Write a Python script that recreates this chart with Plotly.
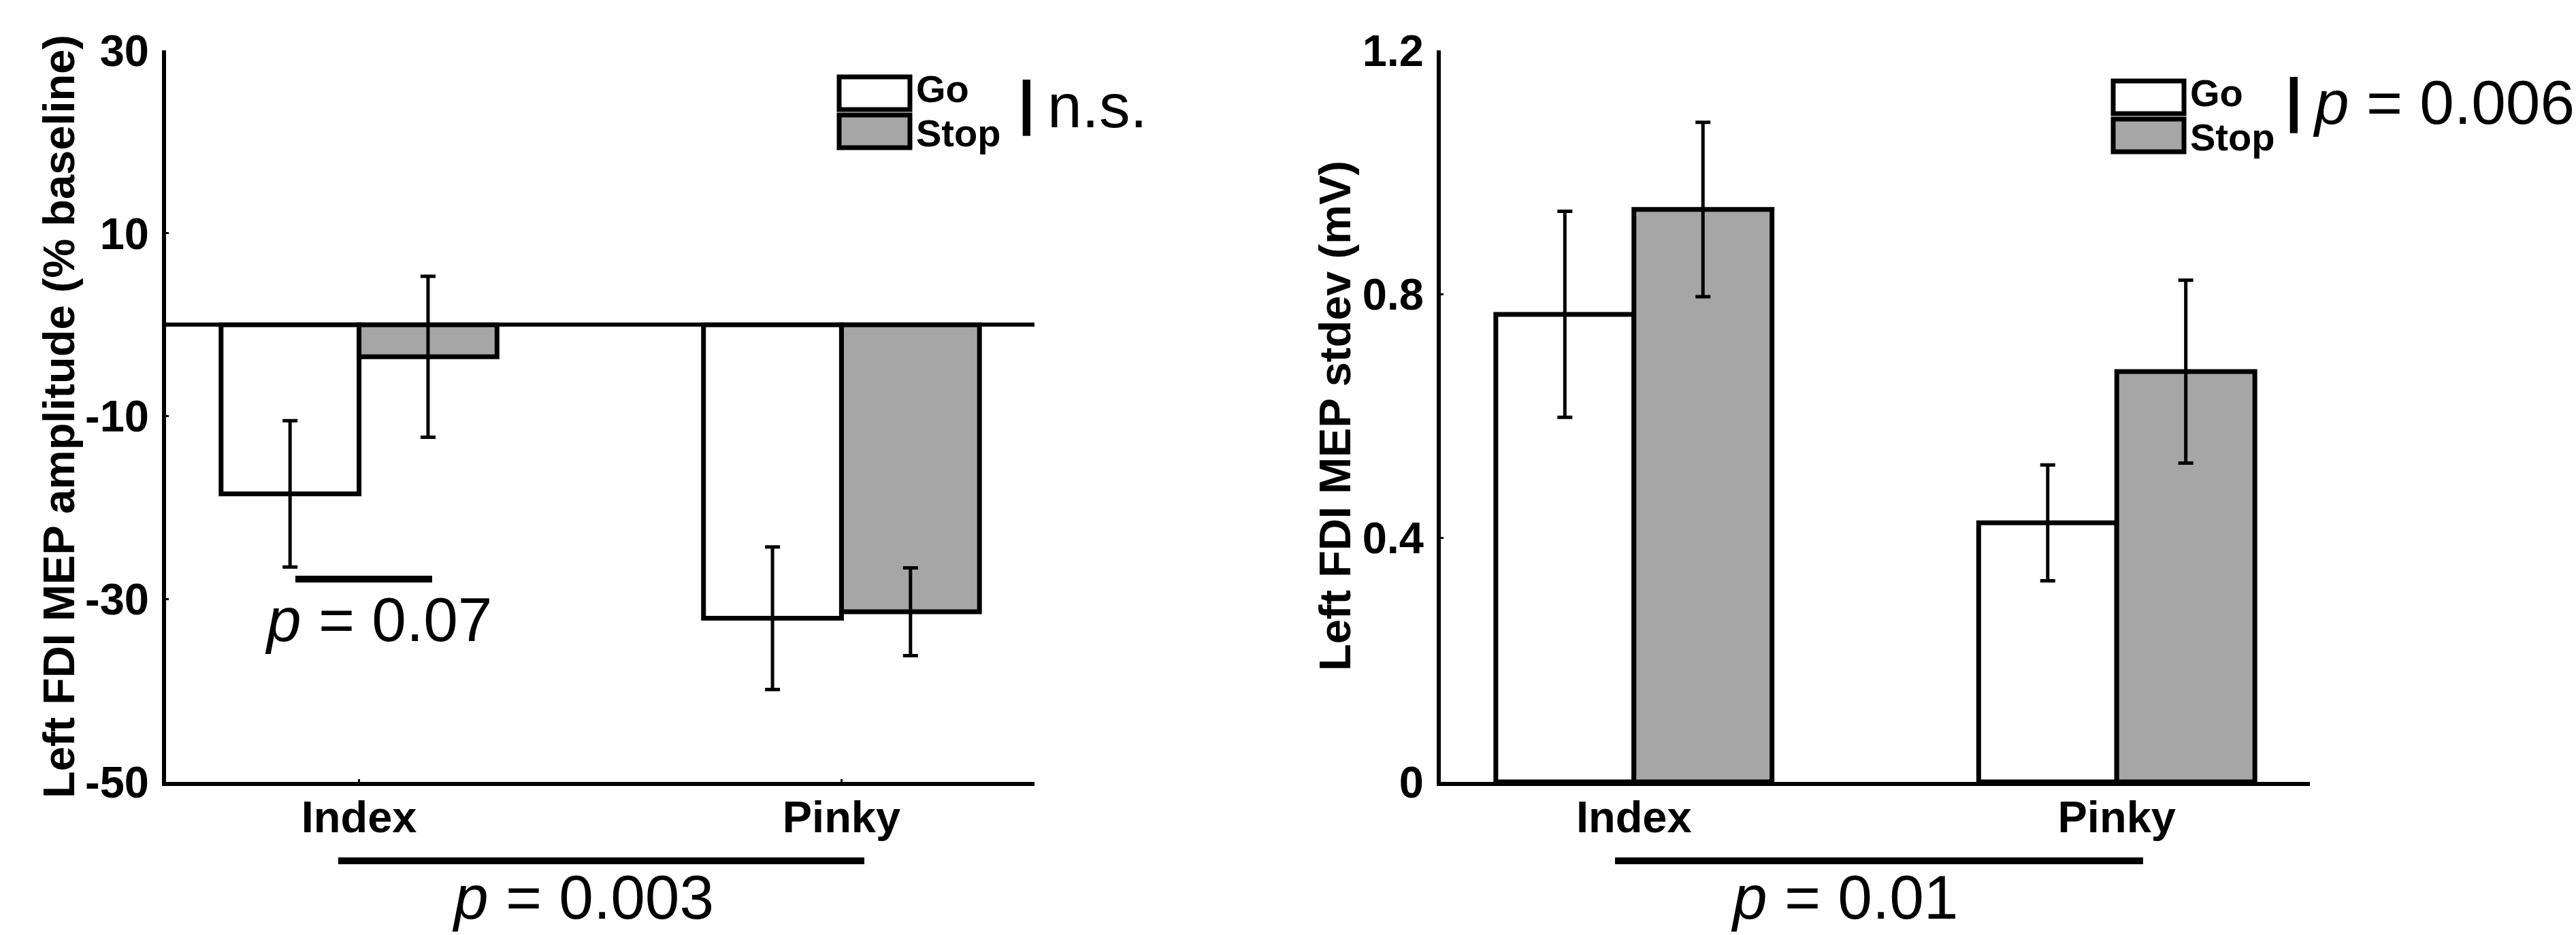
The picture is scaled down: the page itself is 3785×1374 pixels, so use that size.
import plotly.graph_objects as go

# ---- data ----
categories = ["Index", "Pinky"]
conditions = ["Go", "Stop"]

amp_go = [-18.5, -32.1]
amp_go_err = [8.0, 7.8]
amp_stop = [-3.5, -31.4]
amp_stop_err = [8.8, 4.8]

sd_go = [0.767, 0.425]
sd_go_err = [0.169, 0.095]
sd_stop = [0.939, 0.673]
sd_stop_err = [0.143, 0.150]

amp_ticks = [-50, -30, -10, 10, 30]
amp_ticktext = ["-50", "-30", "-10", "10", "30"]
sd_ticks = [0, 0.4, 0.8, 1.2]
sd_ticktext = ["0", "0.4", "0.8", "1.2"]

W, H = 3785, 1374
FONT = "Liberation Sans, Arial, Helvetica, sans-serif"
GRAY = "#a6a6a6"


def px(x):
    return x / W


def py(y):
    return 1 - y / H


fig = go.Figure()


def add_bars(xa, ya, go_vals, go_err, stop_vals, stop_err):
    fig.add_trace(go.Bar(
        x=categories, y=go_vals, name=conditions[0], xaxis=xa, yaxis=ya,
        marker=dict(color="white", line=dict(color="black", width=7)),
        error_y=dict(type="data", array=go_err, color="black", thickness=5, width=11),
        showlegend=False))
    fig.add_trace(go.Bar(
        x=categories, y=stop_vals, name=conditions[1], xaxis=xa, yaxis=ya,
        marker=dict(color=GRAY, line=dict(color="black", width=7)),
        error_y=dict(type="data", array=stop_err, color="black", thickness=5, width=11),
        showlegend=False))


add_bars("x", "y", amp_go, amp_go_err, amp_stop, amp_stop_err)
add_bars("x2", "y2", sd_go, sd_go_err, sd_stop, sd_stop_err)

tickfont = dict(family=FONT, size=65, color="black", weight="bold")
ydom = [py(1149), py(74)]

axis_common = dict(showline=True, linecolor="black", linewidth=6, showgrid=False,
                   ticks="inside", ticklen=4, tickwidth=3, tickcolor="black",
                   tickfont=tickfont, automargin=False)

fig.update_layout(
    template="none",
    width=W, height=H,
    margin=dict(l=0, r=0, t=0, b=0, autoexpand=False),
    paper_bgcolor="white", plot_bgcolor="white",
    barmode="group", bargap=0.428, bargroupgap=0,
    xaxis=dict(domain=[px(244), px(1520)], anchor="y", type="category",
               range=[-0.4, 1.4], zeroline=False, ticklabelstandoff=-10, **axis_common),
    yaxis=dict(domain=ydom, anchor="x", range=[-50, 30], tickvals=amp_ticks,
               ticktext=amp_ticktext,
               zeroline=True, zerolinecolor="black", zerolinewidth=6,
               ticklabelstandoff=6, **axis_common),
    xaxis2=dict(domain=[px(2117), px(3394)], anchor="y2", type="category",
                range=[-0.4, 1.4], zeroline=False, ticklabelstandoff=-10, **axis_common),
    yaxis2=dict(domain=ydom, anchor="x2", range=[0, 1.2], tickvals=sd_ticks,
                ticktext=sd_ticktext, zeroline=False, ticklabelstandoff=6,
                **axis_common),
)

annots = []
shapes = []

# y-axis titles
annots.append(dict(text="Left FDI MEP amplitude (% baseline)", x=px(87), y=py(612),
                   xref="paper", yref="paper", textangle=-90, showarrow=False,
                   xanchor="center", yanchor="middle",
                   font=dict(family=FONT, size=65, color="black", weight="bold")))
annots.append(dict(text="Left FDI MEP stdev (mV)", x=px(1961), y=py(611),
                   xref="paper", yref="paper", textangle=-90, showarrow=False,
                   xanchor="center", yanchor="middle",
                   font=dict(family=FONT, size=65, color="black", weight="bold")))

pfont = dict(family=FONT, size=91, color="black")

# significance bars
shapes.append(dict(type="line", xref="paper", yref="paper", x0=px(434), x1=px(635),
                   y0=py(851), y1=py(851), line=dict(color="black", width=10)))
annots.append(dict(text="<i>p</i> = 0.07", x=px(388), y=py(962), xref="paper", yref="paper",
                   showarrow=False, xanchor="left", yanchor="bottom", font=pfont, borderpad=0))

shapes.append(dict(type="line", xref="paper", yref="paper", x0=px(497), x1=px(1270),
                   y0=py(1265), y1=py(1265), line=dict(color="black", width=10)))
annots.append(dict(text="<i>p</i> = 0.003", x=px(663), y=py(1370), xref="paper", yref="paper",
                   showarrow=False, xanchor="left", yanchor="bottom", font=pfont, borderpad=0))

shapes.append(dict(type="line", xref="paper", yref="paper", x0=px(2373), x1=px(3149),
                   y0=py(1265), y1=py(1265), line=dict(color="black", width=10)))
annots.append(dict(text="<i>p</i> = 0.01", x=px(2542), y=py(1370), xref="paper", yref="paper",
                   showarrow=False, xanchor="left", yanchor="bottom", font=pfont, borderpad=0))


# legends
def legend(x0, y0, stat_text, stat_x, stat_base, bar_x, bar_y):
    bw, bh = 104, 48
    shapes.append(dict(type="rect", xref="paper", yref="paper",
                       x0=px(x0), x1=px(x0 + bw), y0=py(y0), y1=py(y0 + bh),
                       fillcolor="white", line=dict(color="black", width=7)))
    shapes.append(dict(type="rect", xref="paper", yref="paper",
                       x0=px(x0), x1=px(x0 + bw), y0=py(y0 + 56), y1=py(y0 + 56 + bh),
                       fillcolor=GRAY, line=dict(color="black", width=7)))
    lf = dict(family=FONT, size=56, color="black", weight="bold")
    annots.append(dict(text=conditions[0], x=px(x0 + bw + 8), y=py(y0 + 50), xref="paper",
                       yref="paper", showarrow=False, xanchor="left", yanchor="bottom",
                       font=lf, borderpad=0))
    annots.append(dict(text=conditions[1], x=px(x0 + bw + 8), y=py(y0 + 50), xref="paper",
                       yref="paper", showarrow=False, xanchor="left", yanchor="top",
                       font=lf, borderpad=0))
    annots.append(dict(text="|", x=px(bar_x), y=py(bar_y), xref="paper",
                       yref="paper", showarrow=False, xanchor="center", yanchor="middle",
                       font=dict(family=FONT, size=88, color="black", weight="bold")))
    annots.append(dict(text=stat_text, x=px(stat_x), y=py(stat_base + 19), xref="paper",
                       yref="paper", showarrow=False, xanchor="left", yanchor="bottom",
                       font=pfont, borderpad=0))


legend(1233, 113, "n.s.", 1538, 188, 1508, 150)
legend(3105, 119, "<i>p</i> = 0.006", 3397, 183, 3370, 146)

fig.update_layout(annotations=annots, shapes=shapes)
fig.write_html("out.html")
